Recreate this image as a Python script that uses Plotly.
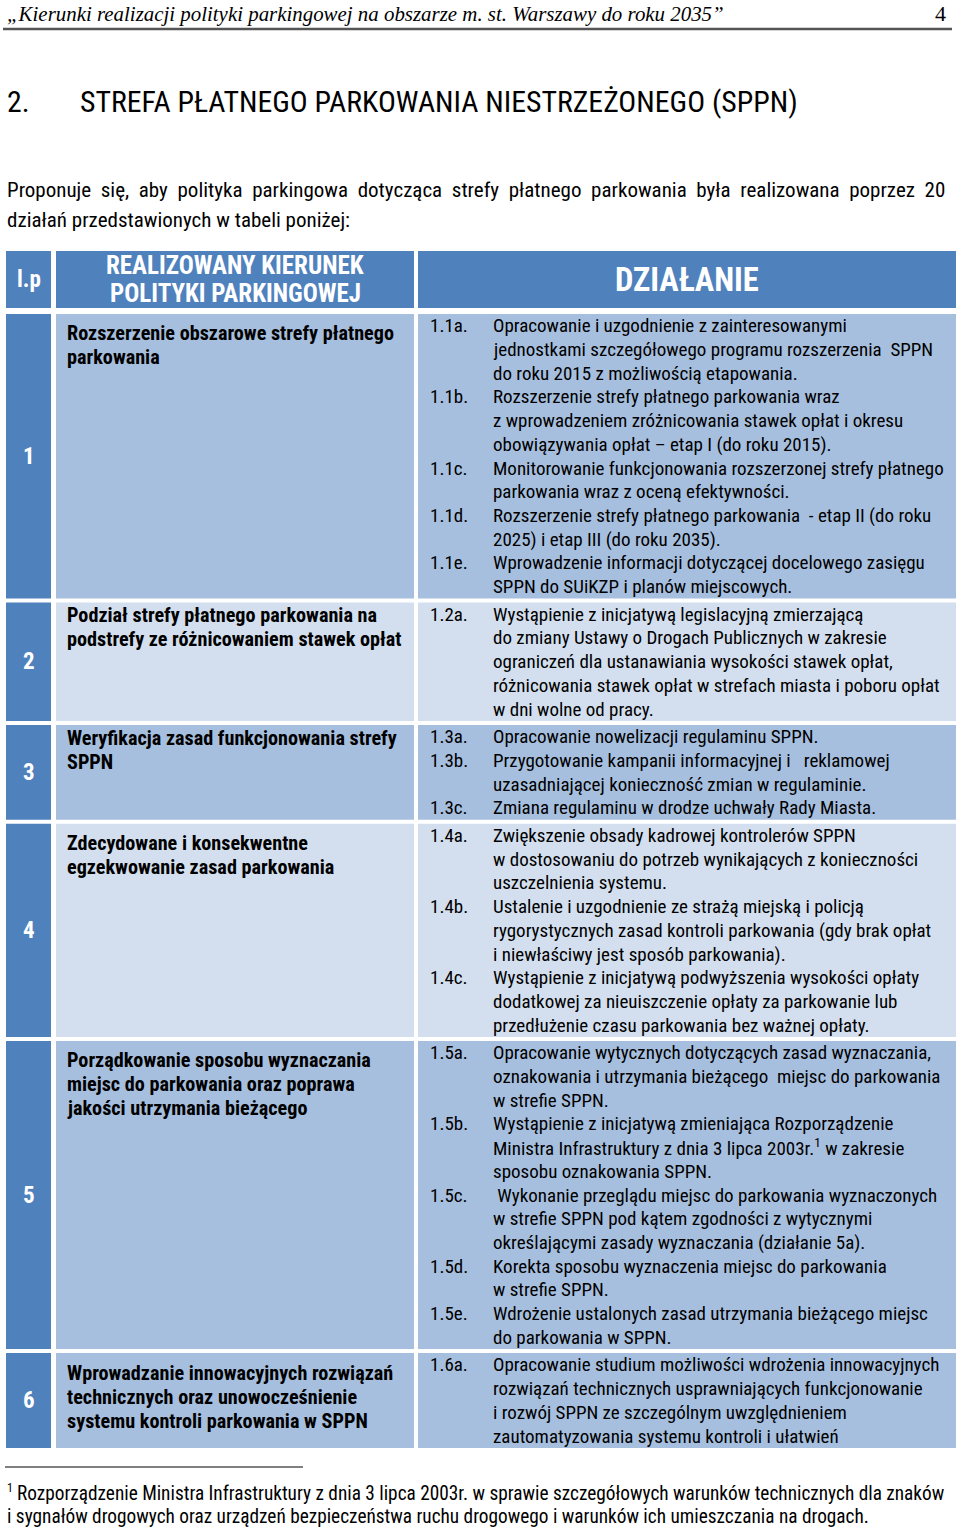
import plotly.graph_objects as go

# ---------------- data ----------------
running_head = "„Kierunki realizacji polityki parkingowej na obszarze m. st. Warszawy do roku 2035”"
page_no = "4"
heading_no = "2."
heading = "STREFA PŁATNEGO PARKOWANIA NIESTRZEŻONEGO (SPPN)"
intro_lines = [
    "Proponuje się, aby polityka parkingowa dotycząca strefy płatnego parkowania była realizowana poprzez 20",
    "działań przedstawionych w tabeli poniżej:",
]
col_headers = ["l.p", ["REALIZOWANY KIERUNEK", "POLITYKI PARKINGOWEJ"], "DZIAŁANIE"]

lp = ["1", "2", "3", "4", "5", "6"]

kierunki = [
    ["Rozszerzenie obszarowe strefy płatnego", "parkowania"],
    ["Podział strefy płatnego parkowania na", "podstrefy ze różnicowaniem stawek opłat"],
    ["Weryfikacja zasad funkcjonowania strefy", "SPPN"],
    ["Zdecydowane i konsekwentne", "egzekwowanie zasad parkowania"],
    ["Porządkowanie sposobu wyznaczania", "miejsc do parkowania oraz poprawa",
     "jakości utrzymania bieżącego"],
    ["Wprowadzanie innowacyjnych rozwiązań", "technicznych oraz unowocześnienie",
     "systemu kontroli parkowania w SPPN"],
]

dzialania = [
    [
        ("1.1a.", ["Opracowanie i uzgodnienie z zainteresowanymi",
                   "jednostkami szczegółowego programu rozszerzenia  SPPN",
                   "do roku 2015 z możliwością etapowania."]),
        ("1.1b.", ["Rozszerzenie strefy płatnego parkowania wraz",
                   "z wprowadzeniem zróżnicowania stawek opłat i okresu",
                   "obowiązywania opłat – etap I (do roku 2015)."]),
        ("1.1c.", ["Monitorowanie funkcjonowania rozszerzonej strefy płatnego",
                   "parkowania wraz z oceną efektywności."]),
        ("1.1d.", ["Rozszerzenie strefy płatnego parkowania  - etap II (do roku",
                   "2025) i etap III (do roku 2035)."]),
        ("1.1e.", ["Wprowadzenie informacji dotyczącej docelowego zasięgu",
                   "SPPN do SUiKZP i planów miejscowych."]),
    ],
    [
        ("1.2a.", ["Wystąpienie z inicjatywą legislacyjną zmierzającą",
                   "do zmiany Ustawy o Drogach Publicznych w zakresie",
                   "ograniczeń dla ustanawiania wysokości stawek opłat,",
                   "różnicowania stawek opłat w strefach miasta i poboru opłat",
                   "w dni wolne od pracy."]),
    ],
    [
        ("1.3a.", ["Opracowanie nowelizacji regulaminu SPPN."]),
        ("1.3b.", ["Przygotowanie kampanii informacyjnej i   reklamowej",
                   "uzasadniającej konieczność zmian w regulaminie."]),
        ("1.3c.", ["Zmiana regulaminu w drodze uchwały Rady Miasta."]),
    ],
    [
        ("1.4a.", ["Zwiększenie obsady kadrowej kontrolerów SPPN",
                   "w dostosowaniu do potrzeb wynikających z konieczności",
                   "uszczelnienia systemu."]),
        ("1.4b.", ["Ustalenie i uzgodnienie ze strażą miejską i policją",
                   "rygorystycznych zasad kontroli parkowania (gdy brak opłat",
                   "i niewłaściwy jest sposób parkowania)."]),
        ("1.4c.", ["Wystąpienie z inicjatywą podwyższenia wysokości opłaty",
                   "dodatkowej za nieuiszczenie opłaty za parkowanie lub",
                   "przedłużenie czasu parkowania bez ważnej opłaty."]),
    ],
    [
        ("1.5a.", ["Opracowanie wytycznych dotyczących zasad wyznaczania,",
                   "oznakowania i utrzymania bieżącego  miejsc do parkowania",
                   "w strefie SPPN."]),
        ("1.5b.", ["Wystąpienie z inicjatywą zmieniająca Rozporządzenie",
                   "Ministra Infrastruktury z dnia 3 lipca 2003r.<sup>1</sup> w zakresie",
                   "sposobu oznakowania SPPN."]),
        ("1.5c.", [" Wykonanie przeglądu miejsc do parkowania wyznaczonych",
                   "w strefie SPPN pod kątem zgodności z wytycznymi",
                   "określającymi zasady wyznaczania (działanie 5a)."]),
        ("1.5d.", ["Korekta sposobu wyznaczenia miejsc do parkowania",
                   "w strefie SPPN."]),
        ("1.5e.", ["Wdrożenie ustalonych zasad utrzymania bieżącego miejsc",
                   "do parkowania w SPPN."]),
    ],
    [
        ("1.6a.", ["Opracowanie studium możliwości wdrożenia innowacyjnych",
                   "rozwiązań technicznych usprawniających funkcjonowanie",
                   "i rozwój SPPN ze szczególnym uwzględnieniem",
                   "zautomatyzowania systemu kontroli i ułatwień"]),
    ],
]

footnote_mark = "1"
footnote_lines = [
    "Rozporządzenie Ministra Infrastruktury z dnia 3 lipca 2003r. w sprawie szczegółowych warunków technicznych dla znaków",
    "i sygnałów drogowych oraz urządzeń bezpieczeństwa ruchu drogowego i warunków ich umieszczania na drogach.",
]

# ---------------- style / layout ----------------
W, H = 960, 1530
NARROW = "Liberation Sans Narrow, Arial Narrow, Roboto Condensed, sans-serif"
SERIF = "Liberation Serif, Times New Roman, serif"
HEAD_BLUE = "#4F81BD"
MID = "#A7BFDE"
LIGHT = "#D3DFEE"
ROW_FILL = [MID, LIGHT, MID, LIGHT, MID, MID]
KIER_PAD = [19, 13, 13, 19, 19, 20]

X_LP = (6, 51)
X_K = (56, 414)
X_D = (418, 956)
HEAD_Y = (251, 308)
BODY_TOP = 314
LH = 23.7
GAP = 4.0
BODY_FS = 19
BOLD_FS = 20.2

fig = go.Figure()
shapes = []
ann = []


def text(x, y, s, size, color="black", family=NARROW, weight="normal",
         xanchor="left", yanchor="middle", style="normal"):
    ann.append(dict(x=x, y=y, xref="x", yref="y", text=s, showarrow=False,
                    xanchor=xanchor, yanchor=yanchor, align="left",
                    font=dict(family=family, size=size, color=color,
                              weight=weight, style=style)))


def rect(x0, y0, x1, y1, color):
    shapes.append(dict(type="rect", xref="x", yref="y", x0=x0, x1=x1, y0=y0, y1=y1,
                       fillcolor=color, line=dict(width=0), layer="below"))


# running header
text(5, 14, running_head, 20.9, family=SERIF, style="italic")
text(948, 13, page_no, 22, family=SERIF, xanchor="right")
shapes.append(dict(type="line", xref="x", yref="y", x0=3, x1=952, y0=29, y1=29,
                   line=dict(color="#555555", width=2.5)))

# heading
text(5, 101, heading_no, 29.8)
text(78, 101, heading, 29.8)

# intro (first line justified in the reference -> widen the word gaps)
text(5, 190, intro_lines[0].replace(" ", "  "), 21)
text(5, 220, intro_lines[1], 21)

# table header
rect(X_LP[0], HEAD_Y[0], X_LP[1], HEAD_Y[1], HEAD_BLUE)
rect(X_K[0], HEAD_Y[0], X_K[1], HEAD_Y[1], HEAD_BLUE)
rect(X_D[0], HEAD_Y[0], X_D[1], HEAD_Y[1], HEAD_BLUE)
hy = (HEAD_Y[0] + HEAD_Y[1]) / 2
text((X_LP[0] + X_LP[1]) / 2, hy, col_headers[0], 23, "white", weight="bold", xanchor="center")
text((X_K[0] + X_K[1]) / 2, 265, col_headers[1][0], 25, "white", weight="bold", xanchor="center")
text((X_K[0] + X_K[1]) / 2, 293, col_headers[1][1], 25, "white", weight="bold", xanchor="center")
text((X_D[0] + X_D[1]) / 2, hy, col_headers[2], 32.5, "white", weight="bold", xanchor="center")

# body rows
top = BODY_TOP
for i in range(len(lp)):
    n_act = sum(len(lines) for _, lines in dzialania[i])
    n = max(n_act, len(kierunki[i]))
    bottom = top + n * LH
    rect(X_LP[0], top, X_LP[1], bottom, HEAD_BLUE)
    rect(X_K[0], top, X_K[1], bottom, ROW_FILL[i])
    rect(X_D[0], top, X_D[1], bottom, ROW_FILL[i])
    text((X_LP[0] + X_LP[1]) / 2, (top + bottom) / 2, lp[i], 23, "white",
         weight="bold", xanchor="center")
    for j, line in enumerate(kierunki[i]):
        text(65, top + KIER_PAD[i] + j * 24, line, BOLD_FS, weight="bold")
    k = 0
    for code, lines in dzialania[i]:
        text(428, top + (k + 0.5) * LH, code, BODY_FS)
        for line in lines:
            text(491, top + (k + 0.5) * LH, line, BODY_FS)
            k += 1
    top = bottom + GAP

# footnote
shapes.append(dict(type="line", xref="x", yref="y", x0=5, x1=303, y0=1467, y1=1467,
                   line=dict(color="black", width=1)))
text(5, 1488, footnote_mark, 12)
text(15, 1493, footnote_lines[0], 19.3)
text(5, 1516, footnote_lines[1], 19.3)

fig.update_layout(
    width=W, height=H, margin=dict(l=0, r=0, t=0, b=0),
    paper_bgcolor="white", plot_bgcolor="white",
    xaxis=dict(range=[0, W], visible=False, fixedrange=True),
    yaxis=dict(range=[H, 0], visible=False, fixedrange=True),
    shapes=shapes, annotations=ann, showlegend=False,
)
fig.write_html(
    "out.html",
    config={"displayModeBar": False},
    post_script="document.body.style.margin='0';document.body.style.overflow='hidden';",
)
